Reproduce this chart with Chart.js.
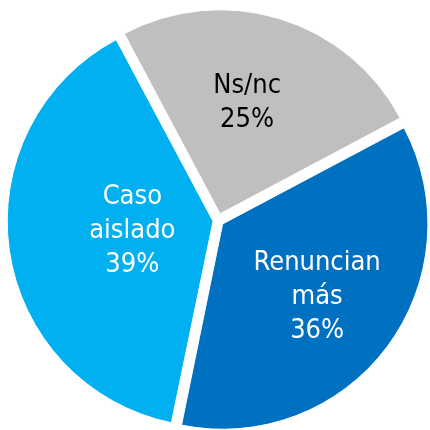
<!DOCTYPE html>
<html>
<head>
<meta charset="utf-8">
<script src="https://cdn.jsdelivr.net/npm/chart.js@4/dist/chart.umd.min.js"></script>
<style>
html,body{margin:0;padding:0;background:#fff;}
#wrap{width:430px;height:430px;}
</style>
</head>
<body>
<div id="wrap"><canvas id="c" width="430" height="430"></canvas></div>
<script>
const categories = [["Ns/nc"], ["Renuncian", "más"], ["Caso", "aislado"]];
const values = [25, 36, 39];
const colors = ["#BFBFBF", "#0070C0", "#00B0F0"];
const textColors = ["#000000", "#FFFFFF", "#FFFFFF"];
const labelRadius = [0.56, 0.58, 0.39];
const labelAngleAdjust = [-3.3, 1, 1];

const labelPlugin = {
  id: 'sliceLabels',
  afterDatasetsDraw(chart) {
    const ctx = chart.ctx;
    const meta = chart.getDatasetMeta(0);
    const ds = chart.data.datasets[0];
    ctx.save();
    ctx.font = '27px "DejaVu Sans Condensed"';
    ctx.textAlign = 'center';
    ctx.textBaseline = 'middle';
    meta.data.forEach((arc, i) => {
      const p = arc.getProps(['x','y','startAngle','endAngle','outerRadius','circumference'], true);
      const mid = (p.startAngle + p.endAngle) / 2;
      const o = (Array.isArray(ds.offset) ? ds.offset[i] : ds.offset) / 4;
      const fix = 1 - Math.sin(Math.min(Math.PI, p.circumference || 0));
      const off = o * (1 + fix);
      const r = p.outerRadius * labelRadius[i];
      const la = mid + labelAngleAdjust[i] * Math.PI / 180;
      const ax = p.x + Math.cos(mid) * off;
      const ay = p.y + Math.sin(mid) * off;
      const cx = ax + Math.cos(la) * r;
      const cy = ay + Math.sin(la) * r;
      const lines = categories[i].concat([values[i] + '%']);
      const lh = 34;
      const top = cy - (lines.length - 1) * lh / 2;
      ctx.fillStyle = textColors[i];
      lines.forEach((t, j) => ctx.fillText(t, cx, top + j * lh));
    });
    ctx.restore();
  }
};

new Chart(document.getElementById('c'), {
  type: 'pie',
  data: {
    labels: categories.map(c => c.join(' ')),
    datasets: [{
      data: values,
      backgroundColor: colors,
      borderColor: '#FFFFFF',
      borderWidth: 1,
      offset: [28, 23, 20],
      clip: false
    }]
  },
  options: {
    responsive: false,
    animation: false,
    rotation: -28,
    radius: 204,
    layout: { padding: { left: 6, top: 11, right: 0, bottom: 0 } },
    plugins: { legend: { display: false }, tooltip: { enabled: false } }
  },
  plugins: [labelPlugin]
});
</script>
</body>
</html>
